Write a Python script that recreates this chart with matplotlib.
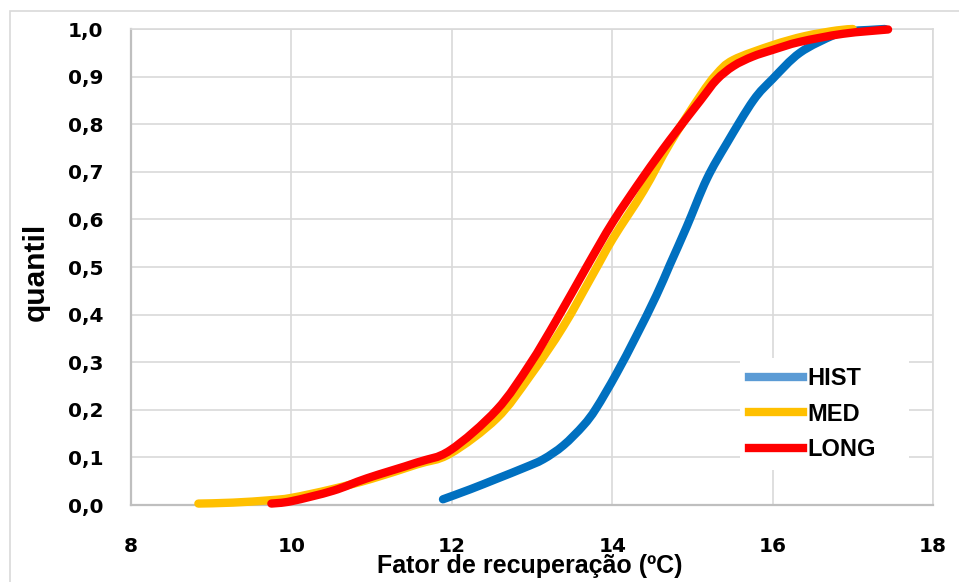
import matplotlib
matplotlib.use("Agg")
import matplotlib.pyplot as plt
from matplotlib.lines import Line2D
from matplotlib.patches import Rectangle, PathPatch
from matplotlib.path import Path


# === data ===
hist_x = [11.89, 12.23, 12.56, 12.9, 13.14, 13.39, 13.64, 13.80, 14.05, 14.30, 14.55,
          14.72, 14.93, 15.18, 15.43, 15.76, 16.0, 16.34, 16.76, 16.95, 17.2, 17.4]
hist_y = [0.012, 0.033, 0.055, 0.078, 0.096, 0.125, 0.167, 0.203, 0.275, 0.355, 0.44,
          0.505, 0.585, 0.685, 0.76, 0.85, 0.895, 0.95, 0.987, 0.995, 0.998, 1.0]

med_x = [8.84, 9.27, 9.73, 10.0, 10.5, 11.0, 11.56, 11.98, 12.56, 12.97, 13.39,
         13.76, 14.01, 14.39, 14.72, 15.1, 15.3, 15.51, 16.0, 16.4, 16.8, 17.0]
med_y = [0.003, 0.005, 0.01, 0.015, 0.033, 0.055, 0.085, 0.108, 0.182, 0.27, 0.375,
         0.485, 0.56, 0.66, 0.76, 0.86, 0.905, 0.935, 0.966, 0.985, 0.997, 1.0]

long_x = [9.75, 10.0, 10.52, 10.94, 11.56, 11.98, 12.56, 12.97, 13.31, 13.68,
          14.01, 14.39, 14.72, 15.1, 15.3, 15.51, 15.75, 16.0, 16.34, 16.88, 17.44]
long_y = [0.003, 0.008, 0.03, 0.056, 0.089, 0.115, 0.2, 0.295, 0.39, 0.50,
          0.595, 0.69, 0.767, 0.85, 0.893, 0.922, 0.942, 0.956, 0.973, 0.99, 0.999]

series_names = ["HIST", "MED", "LONG"]
x_ticks = [8, 10, 12, 14, 16, 18]
y_ticks = [0.0, 0.1, 0.2, 0.3, 0.4, 0.5, 0.6, 0.7, 0.8, 0.9, 1.0]

line_colors = ["#0070C0", "#FFC000", "#FF0000"]
legend_colors = ["#5B9BD5", "#FFC000", "#FF0000"]   # legend swatch of HIST is lighter


def smooth_path(xs, ys):
    """Excel-like smoothed line: Catmull-Rom segments drawn as cubic Beziers."""
    pts = list(zip(xs, ys))
    verts = [pts[0]]
    codes = [Path.MOVETO]
    n = len(pts)
    for i in range(n - 1):
        p0 = pts[i - 1] if i > 0 else pts[i]
        p1 = pts[i]
        p2 = pts[i + 1]
        p3 = pts[i + 2] if i + 2 < n else pts[i + 1]
        c1 = (p1[0] + (p2[0] - p0[0]) / 6, p1[1] + (p2[1] - p0[1]) / 6)
        c2 = (p2[0] - (p3[0] - p1[0]) / 6, p2[1] - (p3[1] - p1[1]) / 6)
        verts += [c1, c2, p2]
        codes += [Path.CURVE4] * 3
    return Path(verts, codes)


fig = plt.figure(figsize=(9.59, 5.82), dpi=100)
ax = fig.add_axes([131 / 959, 77 / 582, 802 / 959, 476 / 582])

# outer chart frame (cut by the image edges)
fig.add_artist(Rectangle((10 / 959, -0.2), 1.5, 1.2 - 11 / 582, transform=fig.transFigure,
                         fill=False, edgecolor="#D9D9D9", linewidth=1.2))

# curves
for xs, ys, c in zip([hist_x, med_x, long_x], [hist_y, med_y, long_y], line_colors):
    patch = PathPatch(smooth_path(xs, ys), fill=False, edgecolor=c, linewidth=6,
                      capstyle="round", joinstyle="round", zorder=3, clip_on=False)
    ax.add_patch(patch)

ax.set_xlim(8, 18)
ax.set_ylim(0, 1)
ax.set_xticks(x_ticks)
ax.set_yticks(y_ticks)
ax.set_xticklabels([str(t) for t in x_ticks])
ax.set_yticklabels([f"{t:.1f}".replace(".", ",") for t in y_ticks])
ax.tick_params(axis="y", length=0, pad=20)
ax.tick_params(axis="x", length=0, pad=23)
for lab in ax.get_xticklabels() + ax.get_yticklabels():
    lab.set_fontfamily("DejaVu Sans")
    lab.set_fontweight("bold")
    lab.set_fontsize(14.5)

ax.grid(True, color="#D9D9D9", linewidth=1.2, zorder=0)
ax.set_axisbelow(True)
for side in ["top", "right"]:
    ax.spines[side].set_color("#D9D9D9")
    ax.spines[side].set_linewidth(1.2)
for side in ["left", "bottom"]:
    ax.spines[side].set_color("#BFBFBF")
    ax.spines[side].set_linewidth(1.6)

ax.set_xlabel("Fator de recuperação (ºC)", fontfamily="Liberation Sans", fontweight="bold",
              fontsize=18)
ax.set_ylabel("quantil", fontfamily="Liberation Sans", fontweight="bold", fontsize=21.5)
ax.xaxis.set_label_coords(0.497, -0.1035)
ax.yaxis.set_label_coords(-0.101, 0.489)

# legend (white box without border, covering the grid)
handles = [Line2D([0], [0], color=c, linewidth=6) for c in legend_colors]
leg = ax.legend(handles, series_names, loc="upper left",
                bbox_to_anchor=(0.7594, 0.0597, 0.211, 0.25), mode="expand",
                borderaxespad=0, frameon=True, fancybox=False, framealpha=1,
                edgecolor="none", facecolor="white", handlelength=2.25, handletextpad=0.22,
                labelspacing=0.53, borderpad=0.4,
                prop={"family": "Liberation Sans", "weight": "bold", "size": 17})
leg.set_zorder(5)

plt.savefig("out.png", dpi=100)
